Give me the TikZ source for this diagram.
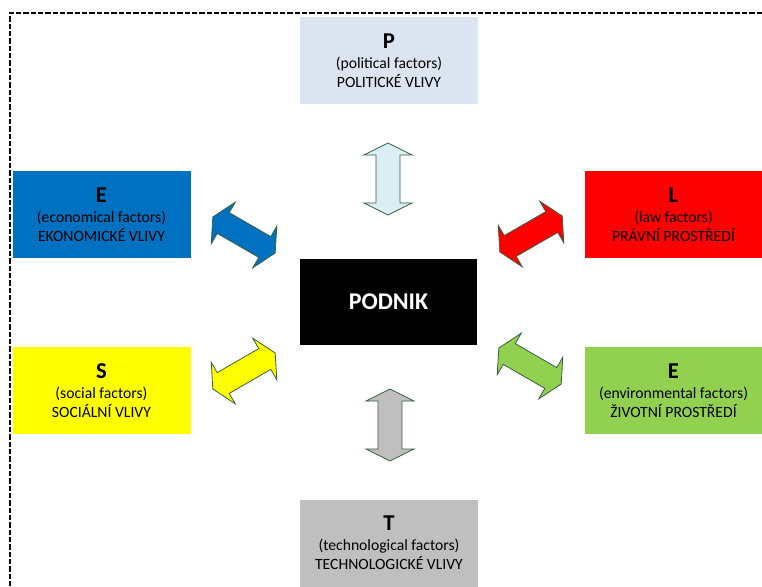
\documentclass[tikz,border=0pt]{standalone}
\usepackage{fontspec}
\setmainfont{Carlito}
\usepackage{xcolor}
\usepackage{tikz}
\usetikzlibrary{positioning, calc}
\definecolor{polblue}{RGB}{219,229,241}
\definecolor{ecoblue}{RGB}{0,112,192}
\definecolor{lawred}{RGB}{255,0,0}
\definecolor{socyellow}{RGB}{255,255,0}
\definecolor{envgreen}{RGB}{146,208,80}
\definecolor{techgray}{RGB}{191,191,191}
\definecolor{arrcyan}{RGB}{218,238,243}
\definecolor{arrline}{RGB}{55,95,65}
\newcommand{\factorletter}[1]{{\fontsize{17}{20}\selectfont\bfseries #1}}
\tikzset{
  factorbox/.style={rectangle, inner sep=0pt,
    minimum width=133.5pt, minimum height=65.25pt,
    align=center, font=\fontsize{11.75}{14.25}\selectfont},
  corebox/.style={rectangle, fill=black, inner sep=0pt,
    minimum width=132.75pt, minimum height=64.5pt,
    text=white, font=\fontsize{18}{22}\selectfont\bfseries},
  frame/.style={line width=1pt, dash pattern=on 4pt off 1.5pt},
  dblarrow/.pic={
    \path[draw=arrline, line width=0.6pt, pic actions]
      (-36,0) -- (-24,24) -- (-24,12) -- (24,12) -- (24,24) -- (36,0)
      -- (24,-24) -- (24,-12) -- (-24,-12) -- (-24,-24) -- cycle;
  }
}
\begin{document}
\begin{tikzpicture}[x=0.75pt, y=-0.75pt]
  \useasboundingbox (0,0) rectangle (762,586);
  % Dashed frame
  \draw[frame] (762,13) -- (10,13) -- (10,586);

  % Centre
  \node[corebox] (podnik) at (388.5,302) {PODNIK};

  % Factor boxes
  \node[factorbox, fill=polblue] (pol) at (389,60.5)
    {\factorletter{P}\\[1pt](political factors)\\POLITICKÉ VLIVY};
  \node[factorbox, fill=ecoblue] (eco) at (101.5,214.5)
    {\factorletter{E}\\[1pt](economical factors)\\EKONOMICKÉ VLIVY};
  \node[factorbox, fill=lawred] (law) at (673.5,214.5)
    {\factorletter{L}\\[1pt](law factors)\\PRÁVNÍ PROSTŘEDÍ};
  \node[factorbox, fill=socyellow] (soc) at (101.5,390.5)
    {\factorletter{S}\\[1pt](social factors)\\SOCIÁLNÍ VLIVY};
  \node[factorbox, fill=envgreen] (env) at (673.5,390.5)
    {\factorletter{E}\\[1pt](environmental factors)\\ŽIVOTNÍ PROSTŘEDÍ};
  \node[factorbox, fill=techgray] (tech) at (389,543)
    {\factorletter{T}\\[1pt](technological factors)\\TECHNOLOGICKÉ VLIVY};

  % Double arrows
  \pic[rotate=90, fill=arrcyan] (aPol) at (388,179) {dblarrow};
  \pic[rotate=-30, fill=ecoblue] (aEco) at (244,235) {dblarrow};
  \pic[rotate=30, fill=lawred] (aLaw) at (531,234) {dblarrow};
  \pic[rotate=30, fill=socyellow] (aSoc) at (244,371) {dblarrow};
  \pic[rotate=-30, fill=envgreen] (aEnv) at (530,366) {dblarrow};
  \pic[rotate=90, fill=techgray] (aTech) at (390,425) {dblarrow};
\end{tikzpicture}
\end{document}
